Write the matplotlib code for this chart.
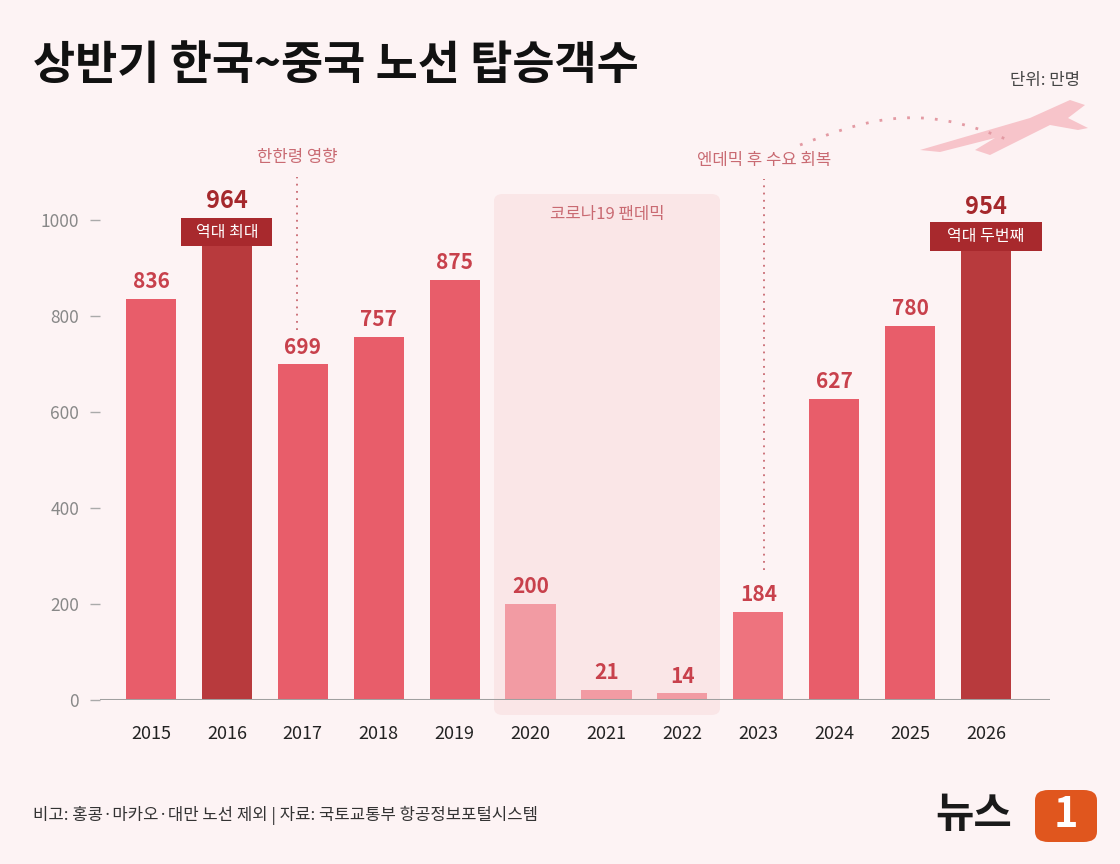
import matplotlib
matplotlib.use("Agg")
import matplotlib.pyplot as plt
from matplotlib.patches import FancyBboxPatch, Rectangle, Polygon
import numpy as np

plt.rcParams['font.family'] = ['Noto Sans CJK KR', 'DejaVu Sans']

years = [2015, 2016, 2017, 2018, 2019, 2020, 2021, 2022, 2023, 2024, 2025, 2026]
passengers = [836, 964, 699, 757, 875, 200, 21, 14, 184, 627, 780, 954]
bar_colors = ["#e85d6a", "#b83a3d", "#e85d6a", "#e85d6a", "#e85d6a", "#f29ba3",
              "#f29ba3", "#f29ba3", "#ee737e", "#e85d6a", "#e85d6a", "#b83a3d"]
label_colors = ["#c8414c", "#a5282c", "#c8414c", "#c8414c", "#c8414c", "#c8414c",
                "#c8414c", "#c8414c", "#c8414c", "#c8414c", "#c8414c", "#a5282c"]
yticks = [0, 200, 400, 600, 800, 1000]

BG = "#fdf3f4"
W, H = 1120, 864
fig = plt.figure(figsize=(11.2, 8.64), dpi=100, facecolor=BG)

def fx(px): return px / W
def fy(py): return 1 - py / H

# pandemic shade (figure pixels)
fig.patches.append(FancyBboxPatch((fx(494), fy(715)), fx(226), fy(194) - fy(715),
                                  boxstyle="round,pad=0,rounding_size=0.008",
                                  transform=fig.transFigure, fc="#fae6e7", ec="none", zorder=0))
fig.text(fx(607), fy(214), "코로나19 팬데믹", ha="center", va="center",
         fontsize=12, color="#c96a72")

ax = fig.add_axes([fx(100), fy(700), fx(1050) - fx(100), fy(150) - fy(700)])
ax.set_zorder(3)
ax.set_facecolor("none")
ax.set_xlim(2015 - 51 / 76, 2026 + 64 / 76)
ax.set_ylim(0, 550 / 0.48)

ax.bar(years, passengers, width=0.66, color=bar_colors, zorder=2)
badges = {2016: ("역대 최대", 1.2, 946, 1004, 1040), 2026: ("역대 두번째", 1.48, 935, 996, 1027)}
for x, v, c in zip(years, passengers, label_colors):
    if x in badges:
        txt, w, b0, b1, ly = badges[x]
        ax.add_patch(Rectangle((x - w / 2, b0), w, b1 - b0, fc="#a8292d", ec="none", zorder=3))
        ax.text(x, (b0 + b1) / 2, txt, ha="center", va="center", fontsize=11.5, color="white", zorder=4)
        ax.text(x, ly, str(v), ha="center", va="center", fontsize=17,
                fontweight="bold", color=c, zorder=4)
    else:
        ax.text(x, v + 14, str(v), ha="center", va="bottom", fontsize=15,
                fontweight="bold", color=c, zorder=4)

# annotations
ax.plot([2016.93, 2016.93], [770, 1090], ls=(0, (1, 3)), color="#c96a72", lw=1.3)
ax.text(2016.93, 1130, "한한령 영향", ha="center", va="center", fontsize=12, color="#c96a72")
ax.plot([2023.08, 2023.08], [270, 1085], ls=(0, (1, 3)), color="#c96a72", lw=1.3)
ax.text(2023.08, 1125, "엔데믹 후 수요 회복", ha="center", va="center", fontsize=12, color="#c96a72")

ax.set_xticks(years)
ax.set_xticklabels([str(y) for y in years], fontsize=13, color="#222222")
ax.set_yticks(yticks)
ax.set_yticklabels([str(t) for t in yticks], fontsize=12.5, color="#888888")
ax.tick_params(axis="x", length=0, pad=18)
ax.tick_params(axis="y", length=7, width=1, color="#aaaaaa", pad=8, direction="out")
for s in ax.spines.values():
    s.set_visible(False)
ax.axhline(0, color="#a0a0a0", lw=2.2, zorder=3)

# title & notes
fig.text(fx(33), fy(66), "상반기 한국~중국 노선 탑승객수", fontsize=33, fontweight="bold",
         color="#111111", va="center")
fig.text(fx(1080), fy(81), "단위: 만명", fontsize=12, color="#444444", ha="right", va="center")
fig.text(fx(33), fy(815), "비고: 홍콩·마카오·대만 노선 제외 | 자료: 국토교통부 항공정보포털시스템",
         fontsize=12, color="#333333", va="center")

# plane & dotted path
t = np.linspace(0, 1, 40)
px = 800 + 210 * t
py = 145 - 30 * np.sin(np.pi * t * 0.9) + 5 * t
fig.lines.append(plt.Line2D(fx(px), fy(py), transform=fig.transFigure,
                            ls=(0, (1, 4)), color="#e39aa3", lw=2))
plane = [(920, 150), (1030, 118), (1070, 100), (1085, 105), (1068, 118), (1088, 128),
         (1078, 130), (1050, 125), (1020, 140), (990, 155), (975, 150), (995, 138), (940, 152)]
fig.patches.append(Polygon([(fx(a), fy(b)) for a, b in plane], closed=True,
                           transform=fig.transFigure, fc="#f7c4ca", ec="none"))

# logo
fig.text(fx(935), fy(815), "뉴스", fontsize=30, fontweight="bold", color="#1a1a1a",
         va="center", style="italic")
fig.patches.append(FancyBboxPatch((fx(1035), fy(842)), fx(62), fy(790) - fy(842),
                                  boxstyle="round,pad=0,rounding_size=0.012",
                                  transform=fig.transFigure, fc="#e0561e", ec="none"))
fig.text(fx(1066), fy(815), "1", fontsize=30, fontweight="bold", color="white",
         ha="center", va="center", style="italic")

fig.savefig("out.png", dpi=100, facecolor=BG)
